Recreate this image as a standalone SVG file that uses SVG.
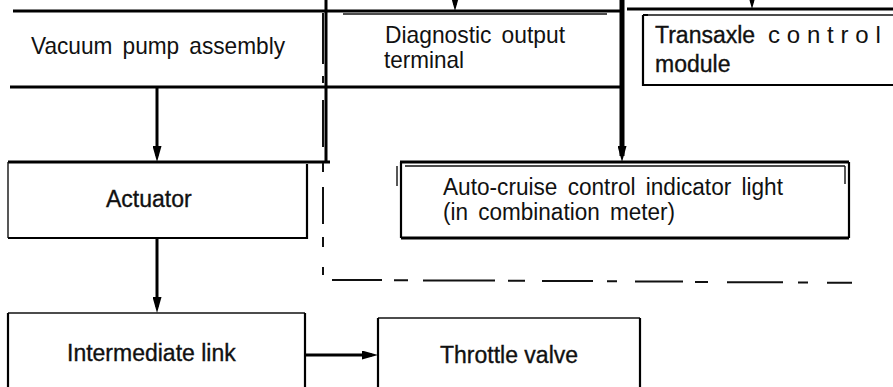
<svg xmlns="http://www.w3.org/2000/svg" width="893" height="387" viewBox="0 0 893 387">
<style>
  .t{font-family:"Liberation Sans",Arial,Helvetica,sans-serif;fill:#111}
  .lt{font-size:24px;word-spacing:4px}
  .bd{font-size:23px;stroke:#111;stroke-width:0.35}
  .k3{stroke:#000;stroke-width:3;fill:none}
  .k2{stroke:#000;stroke-width:2.2;fill:none}
  .k1{stroke:#111;stroke-width:1.4;fill:none}
  .cn{stroke:#000;stroke-width:3;fill:none;marker-end:url(#ah)}
  .ds{stroke:#111;stroke-width:2;fill:none}
</style>
<defs>
  <marker id="ah" markerUnits="userSpaceOnUse" markerWidth="16" markerHeight="9" viewBox="0 0 16 9" refX="10" refY="4.5" orient="auto">
    <path d="M0 0 L16 4.5 L0 9 Z" fill="#000"/>
  </marker>
</defs>
<rect width="893" height="387" fill="#fff"/>

<g id="vacuum-pump">
  <path class="k3" d="M13 11 H326 M10 87 H326"/>
  <text class="t lt" x="31" y="54" textLength="254" lengthAdjust="spacingAndGlyphs">Vacuum pump assembly</text>
</g>

<g id="diagnostic-terminal">
  <path class="k3" d="M326 11 H622 M326 87 H622 M326 0 V163"/>
  <path class="k1" d="M343 14 H607"/>
  <text class="t lt" x="385" y="43" textLength="180" lengthAdjust="spacingAndGlyphs">Diagnostic output</text>
  <text class="t lt" x="384" y="68" textLength="80" lengthAdjust="spacingAndGlyphs">terminal</text>
</g>

<g id="transaxle-module">
  <path class="k3" d="M627 9 H893"/>
  <path class="k1" d="M645 15 H893"/>
  <path class="k2" d="M643 15 V86 M643 85 H893 M643 15 H648"/>
  <text class="t" x="655" y="43"><tspan class="bd" font-size="24">Transaxle</tspan><tspan font-size="24" x="768" letter-spacing="6.8">contro</tspan><tspan font-size="24">l</tspan></text>
  <text class="t bd" x="655" y="72" font-size="24">module</text>
</g>

<g id="actuator">
  <path class="k3" d="M8 162 H330"/>
  <path class="k2" d="M307 164 V239 M8 238 H307"/>
  <path class="k1" d="M8 162 V238"/>
  <text class="t bd" x="106" y="207">Actuator</text>
</g>

<g id="auto-cruise-indicator">
  <path class="k3" d="M400 162 H849 M401 238 H849"/>
  <path class="k2" d="M401 162 V238 M849 162 V238"/>
  <path class="k1" d="M405 166 H845 M397 166 V186 M845 166 V184"/>
  <text class="t lt" style="font-size:23px" x="443" y="195" textLength="340" lengthAdjust="spacingAndGlyphs">Auto-cruise control indicator light</text>
  <text class="t lt" style="font-size:23px" x="443" y="220" textLength="232" lengthAdjust="spacingAndGlyphs">(in combination meter)</text>
</g>

<g id="intermediate-link">
  <path class="k1" d="M8 313 H305"/>
  <path class="k2" d="M8 313 V387 M305 313 V387"/>
  <text class="t bd" x="67" y="361">Intermediate link</text>
</g>

<g id="throttle-valve">
  <path class="k1" d="M378 318 H640"/>
  <path class="k2" d="M378 318 V387 M640 318 V387"/>
  <text class="t bd" x="440" y="363">Throttle valve</text>
</g>

<g id="connectors">
  <path class="cn" d="M157 87 V156"/>
  <path class="cn" d="M157 239 V307"/>
  <path class="cn" d="M305 355 H372"/>
  <path class="cn" d="M455 -12 V5"/>
  <path class="cn" d="M752 -12 V3"/>
  <path class="cn" style="stroke-width:5" d="M622 0 V156"/>
  <path class="ds" d="M323 13 V64 M323 76 V83 M323 100 V147 M323 163 V172 M323 187 V224 M323 237 V247 M323 267 V275"/>
  <path class="ds" d="M332 280 H382 M394 280.2 H408 M423 280.5 H495 M508 280.8 H525 M542 281 H593 M607 281.3 H617 M635 281.6 H683 M695 281.9 H708 M727 282.2 H783 M798 282.5 H808 M827 282.8 H852"/>
</g>
</svg>
